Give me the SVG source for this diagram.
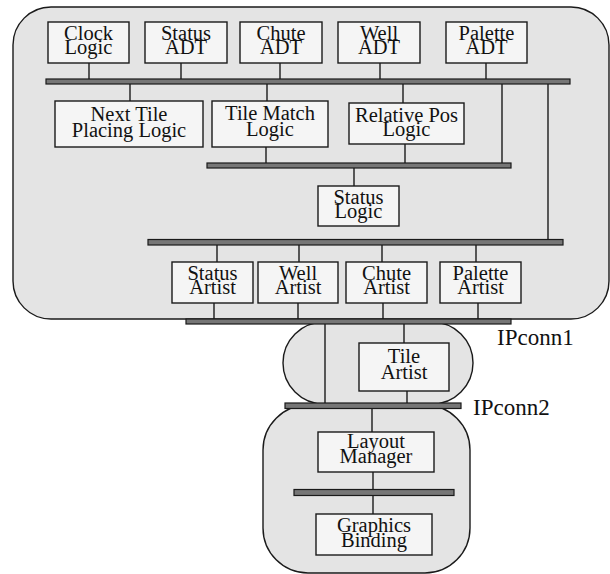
<svg xmlns="http://www.w3.org/2000/svg" width="610" height="574" viewBox="0 0 610 574">
  <style>
    .shell { fill: #e4e4e4; stroke: #1a1a1a; stroke-width: 1.4; }
    .box { fill: #f5f5f5; stroke: #1a1a1a; stroke-width: 1.4; }
    .bus { fill: #767676; stroke: #1a1a1a; stroke-width: 1.2; }
    .wire { fill: none; stroke: #1a1a1a; stroke-width: 1.4; }
    text { font-family: "Liberation Serif", "Times New Roman", serif; font-size: 20.5px; fill: #111; text-anchor: middle; }
    .label { text-anchor: start; font-size: 23px; }
  </style>

  <!-- enclosing regions -->
  <g id="shells">
    <rect class="shell" x="13" y="7" width="596" height="312" rx="38" ry="38"/>
    <rect class="shell" x="283" y="322" width="190" height="82" rx="41" ry="41"/>
    <rect class="shell" x="263" y="405" width="207" height="168" rx="45" ry="45"/>
  </g>

  <!-- wires and bus bars -->
  <g id="connectors">
    <!-- top row to bus 1 -->
    <line class="wire" x1="89" y1="62" x2="89" y2="80"/>
    <line class="wire" x1="181" y1="62" x2="181" y2="80"/>
    <line class="wire" x1="280" y1="62" x2="280" y2="80"/>
    <line class="wire" x1="380" y1="62" x2="380" y2="80"/>
    <line class="wire" x1="486" y1="62" x2="486" y2="80"/>
    <!-- bus 1 to second row -->
    <line class="wire" x1="130" y1="84" x2="130" y2="101"/>
    <line class="wire" x1="267" y1="84" x2="267" y2="101"/>
    <line class="wire" x1="403" y1="84" x2="403" y2="103"/>
    <!-- bus 1 down to bus 2 and bus 3 -->
    <line class="wire" x1="502" y1="84" x2="502" y2="164"/>
    <line class="wire" x1="548" y1="84" x2="548" y2="240"/>
    <!-- second row to bus 2 -->
    <line class="wire" x1="266" y1="147" x2="266" y2="164"/>
    <line class="wire" x1="405" y1="144" x2="405" y2="164"/>
    <!-- bus 2 to status logic -->
    <line class="wire" x1="354" y1="168" x2="354" y2="186"/>
    <!-- bus 3 to artists -->
    <line class="wire" x1="217" y1="245" x2="217" y2="262"/>
    <line class="wire" x1="299" y1="245" x2="299" y2="262"/>
    <line class="wire" x1="382" y1="245" x2="382" y2="262"/>
    <line class="wire" x1="476" y1="245" x2="476" y2="262"/>
    <!-- artists to IPconn1 -->
    <line class="wire" x1="214" y1="303" x2="214" y2="320"/>
    <line class="wire" x1="298" y1="303" x2="298" y2="320"/>
    <line class="wire" x1="383" y1="303" x2="383" y2="320"/>
    <line class="wire" x1="478" y1="303" x2="478" y2="320"/>
    <!-- IPconn1 to IPconn2 / tile artist -->
    <line class="wire" x1="325" y1="324" x2="325" y2="404"/>
    <line class="wire" x1="404" y1="324" x2="404" y2="343"/>
    <line class="wire" x1="407" y1="391" x2="407" y2="404"/>
    <!-- IPconn2 to layout manager to graphics binding -->
    <line class="wire" x1="372" y1="409" x2="372" y2="432"/>
    <line class="wire" x1="373" y1="472" x2="373" y2="490"/>
    <line class="wire" x1="373" y1="496" x2="373" y2="514"/>

    <rect class="bus" x="46" y="79" width="524" height="5"/>
    <rect class="bus" x="207" y="163" width="304" height="5"/>
    <rect class="bus" x="148" y="239.5" width="415" height="5.5"/>
    <rect class="bus" x="186" y="319" width="325" height="5"/>
    <rect class="bus" x="285" y="403" width="176" height="5.5"/>
    <rect class="bus" x="294" y="489.5" width="160" height="6"/>
  </g>

  <g id="clock-logic">
    <rect class="box" x="48" y="22" width="81" height="41"/>
    <text><tspan x="88.5" y="40">Clock</tspan><tspan x="88.5" y="54">Logic</tspan></text>
  </g>
  <g id="status-adt">
    <rect class="box" x="145" y="22" width="82" height="41"/>
    <text><tspan x="186" y="40">Status</tspan><tspan x="186" y="54">ADT</tspan></text>
  </g>
  <g id="chute-adt">
    <rect class="box" x="240" y="22" width="82" height="41"/>
    <text><tspan x="281" y="40">Chute</tspan><tspan x="281" y="54">ADT</tspan></text>
  </g>
  <g id="well-adt">
    <rect class="box" x="338" y="22" width="82" height="41"/>
    <text><tspan x="379" y="40">Well</tspan><tspan x="379" y="54">ADT</tspan></text>
  </g>
  <g id="palette-adt">
    <rect class="box" x="446" y="22" width="81" height="41"/>
    <text><tspan x="486.5" y="40">Palette</tspan><tspan x="486.5" y="54">ADT</tspan></text>
  </g>

  <g id="next-tile-placing-logic">
    <rect class="box" x="55" y="101" width="148" height="46"/>
    <text><tspan x="129" y="121">Next Tile</tspan><tspan x="129" y="137">Placing Logic</tspan></text>
  </g>
  <g id="tile-match-logic">
    <rect class="box" x="212" y="101" width="116" height="46"/>
    <text><tspan x="270" y="120">Tile Match</tspan><tspan x="270" y="136">Logic</tspan></text>
  </g>
  <g id="relative-pos-logic">
    <rect class="box" x="349" y="103" width="115" height="41"/>
    <text><tspan x="406.5" y="122">Relative Pos</tspan><tspan x="406.5" y="136">Logic</tspan></text>
  </g>

  <g id="status-logic">
    <rect class="box" x="318" y="186" width="81" height="40"/>
    <text><tspan x="358.5" y="204">Status</tspan><tspan x="358.5" y="218">Logic</tspan></text>
  </g>

  <g id="status-artist">
    <rect class="box" x="172" y="262" width="81" height="41"/>
    <text><tspan x="212.5" y="280">Status</tspan><tspan x="212.5" y="294">Artist</tspan></text>
  </g>
  <g id="well-artist">
    <rect class="box" x="258" y="262" width="80" height="41"/>
    <text><tspan x="298" y="280">Well</tspan><tspan x="298" y="294">Artist</tspan></text>
  </g>
  <g id="chute-artist">
    <rect class="box" x="346" y="262" width="81" height="41"/>
    <text><tspan x="386.5" y="280">Chute</tspan><tspan x="386.5" y="294">Artist</tspan></text>
  </g>
  <g id="palette-artist">
    <rect class="box" x="440" y="262" width="81" height="41"/>
    <text><tspan x="480.5" y="280">Palette</tspan><tspan x="480.5" y="294">Artist</tspan></text>
  </g>

  <g id="tile-artist">
    <rect class="box" x="359" y="343" width="90" height="48"/>
    <text><tspan x="404" y="363">Tile</tspan><tspan x="404" y="379">Artist</tspan></text>
  </g>

  <g id="layout-manager">
    <rect class="box" x="318" y="432" width="116" height="40"/>
    <text><tspan x="376" y="448">Layout</tspan><tspan x="376" y="463">Manager</tspan></text>
  </g>
  <g id="graphics-binding">
    <rect class="box" x="316" y="514" width="116" height="41"/>
    <text><tspan x="374" y="532">Graphics</tspan><tspan x="374" y="547">Binding</tspan></text>
  </g>

  <g id="labels">
    <text class="label" x="497" y="345">IPconn1</text>
    <text class="label" x="473" y="415">IPconn2</text>
  </g>
</svg>
